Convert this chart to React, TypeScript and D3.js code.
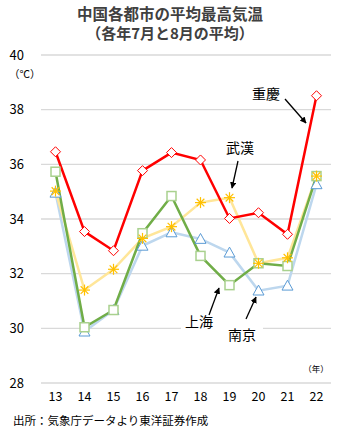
import React from "react";
import * as d3 from "d3";

const years = ["13", "14", "15", "16", "17", "18", "19", "20", "21", "22"];
const chongqing = [36.46, 33.54, 32.84, 35.77, 36.43, 36.16, 34.02, 34.23, 33.44, 38.51];
const wuhan = [35.02, 31.4, 32.16, 33.29, 33.72, 34.6, 34.78, 32.38, 32.58, 35.57];
const shanghai = [35.73, 30.04, 30.67, 33.48, 34.84, 32.65, 31.58, 32.38, 32.28, 35.57];
const nanjing = [34.96, 29.88, 30.67, 33.02, 33.51, 33.27, 32.77, 31.38, 31.56, 35.27];
const yTicks = [28, 30, 32, 34, 36, 38, 40];

const W = 340, H = 432;
const left = 41, right = 331, top = 55, bottom = 383;

export default function App() {
  const x = d3.scaleBand().domain(years).range([left, right]);
  const y = d3.scaleLinear().domain([28, 40]).range([bottom, top]);
  const cx = (i: number) => (x(years[i]) as number) + x.bandwidth() / 2;
  const line = d3.line<number>().x((_, i) => cx(i)).y((d) => y(d));
  const font = "'Noto Sans CJK JP', 'Noto Sans', sans-serif";

  const diamond = (px: number, py: number, k: number) => {
    const r = 5;
    return <path key={k} d={`M${px},${py - r}L${px + r},${py}L${px},${py + r}L${px - r},${py}Z`} fill="#fff" stroke="#FF0000" strokeWidth={1} />;
  };
  const square = (px: number, py: number, k: number) => (
    <rect key={k} x={px - 4.5} y={py - 4.5} width={9} height={9} fill="#fff" stroke="#A9D18E" strokeWidth={1.5} />
  );
  const tri = (px: number, py: number, k: number) => {
    const r = 5.5;
    return <path key={k} d={`M${px},${py - r}L${px + r},${py + r * 0.8}L${px - r},${py + r * 0.8}Z`} fill="#fff" stroke="#5B9BD5" strokeWidth={1} />;
  };
  const star = (px: number, py: number, k: number) => {
    const r = 5.5;
    return (
      <g key={k} stroke="#FFC000" strokeWidth={1.2}>
        <line x1={px - r} y1={py} x2={px + r} y2={py} />
        <line x1={px} y1={py - r} x2={px} y2={py + r} />
        <line x1={px - r * 0.7} y1={py - r * 0.7} x2={px + r * 0.7} y2={py + r * 0.7} />
        <line x1={px - r * 0.7} y1={py + r * 0.7} x2={px + r * 0.7} y2={py - r * 0.7} />
      </g>
    );
  };

  const arrow = (x1: number, y1: number, x2: number, y2: number) => (
    <line x1={x1} y1={y1} x2={x2} y2={y2} stroke="#000" strokeWidth={1.3} markerEnd="url(#ah)" />
  );

  return (
    <svg width={W} height={H} style={{ position: "absolute", left: 0, top: 0, background: "#fff" }} fontFamily={font}>
      <defs>
        <marker id="ah" viewBox="0 0 10 10" refX="9" refY="5" markerWidth="5" markerHeight="5" orient="auto">
          <path d="M0,0L10,5L0,10Z" fill="#000" />
        </marker>
      </defs>
      <text x={170} y={20} textAnchor="middle" fontSize={15.5} fontWeight="bold" fill="#404040">中国各都市の平均最高気温</text>
      <text x={170} y={39} textAnchor="middle" fontSize={15} fontWeight="bold" fill="#404040">（各年7月と8月の平均）</text>
      {yTicks.map((t) => (
        <g key={t}>
          <line x1={left} x2={right} y1={y(t)} y2={y(t)} stroke="#D9D9D9" strokeWidth={1.3} />
          <text x={24} y={y(t) + 4.5} textAnchor="end" fontSize={13} fill="#000">{t}</text>
        </g>
      ))}
      <text x={9} y={78} fontSize={10.5} fill="#000">（℃）</text>
      {years.map((yr) => (
        <text key={yr} x={(x(yr) as number) + x.bandwidth() / 2} y={401} textAnchor="middle" fontSize={12.5} fill="#000">{yr}</text>
      ))}
      <text x={316} y={372} textAnchor="middle" fontSize={8.5} fill="#000">（年）</text>

      <path d={line(nanjing) as string} fill="none" stroke="#BDD7EE" strokeWidth={2.5} />
      <path d={line(wuhan) as string} fill="none" stroke="#FFE699" strokeWidth={2.5} />
      <path d={line(shanghai) as string} fill="none" stroke="#70AD47" strokeWidth={2.5} />
      <path d={line(chongqing) as string} fill="none" stroke="#FF0000" strokeWidth={2.5} />
      {nanjing.map((v, i) => tri(cx(i), y(v), i))}
      {shanghai.map((v, i) => square(cx(i), y(v), i))}
      {wuhan.map((v, i) => star(cx(i), y(v), i))}
      {chongqing.map((v, i) => diamond(cx(i), y(v), i))}

      <rect x={181} y={310} width={82} height={31} fill="#fff" />
      <text x={266} y={99} textAnchor="middle" fontSize={14} fill="#000">重慶</text>
      {arrow(285, 99, 306, 123)}
      <text x={240} y={153} textAnchor="middle" fontSize={14} fill="#000">武漢</text>
      {arrow(238, 161, 232, 188)}
      <text x={199} y={327} textAnchor="middle" fontSize={14} fill="#000">上海</text>
      {arrow(209, 315, 219, 288)}
      <text x={242} y={340} textAnchor="middle" fontSize={14} fill="#000">南京</text>
      {arrow(246, 319, 256, 297)}

      <text x={13} y={425} fontSize={11.5} fill="#000">出所：気象庁データより東洋証券作成</text>
    </svg>
  );
}
